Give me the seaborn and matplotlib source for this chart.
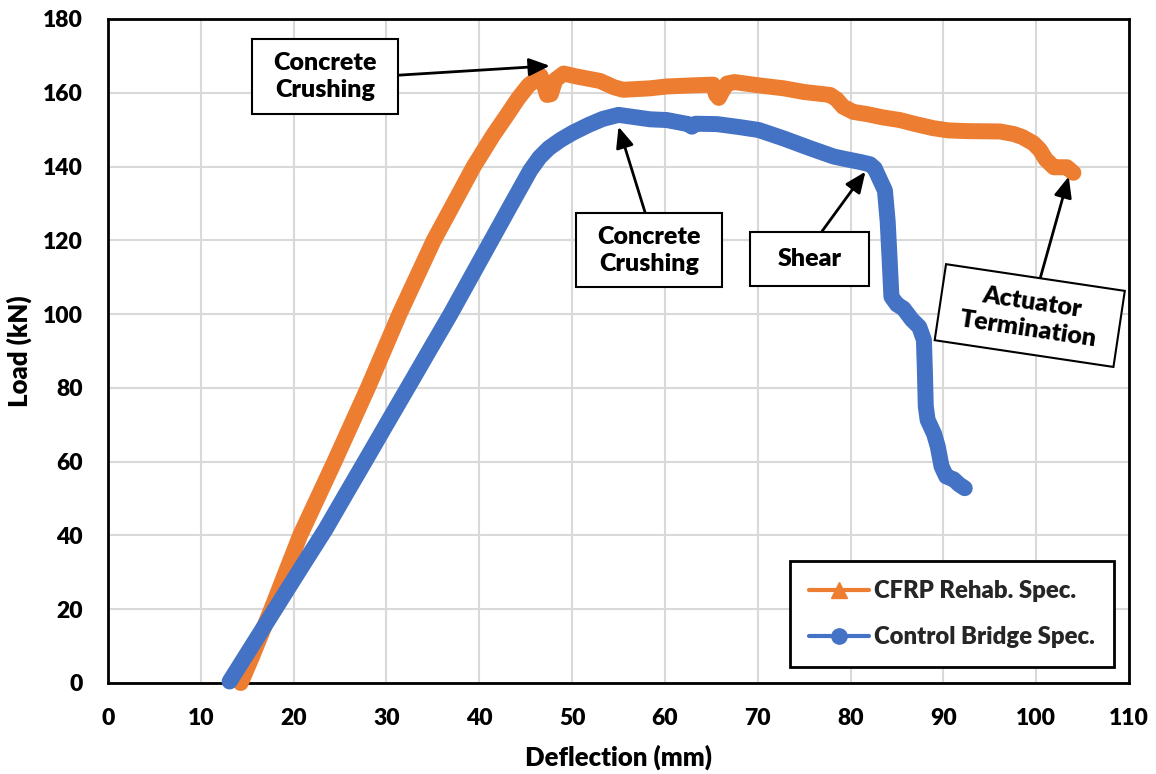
import matplotlib
matplotlib.use("Agg")
import matplotlib.pyplot as plt
from matplotlib.lines import Line2D
from matplotlib.path import Path
import pandas as pd
import seaborn as sns

# Load-deflection records of the two bridge specimens
cfrp_deflection = [14.3, 15.5, 17.6, 20.7, 24.4, 28.0, 31.4, 35.1, 39.4, 41.5,
                   43.0, 44.2, 45.3, 46.6, 47.0, 47.3, 47.7, 48.2, 49.1, 50.5,
                   53.0, 54.5, 55.5, 58.4, 60.2, 63.0, 65.2, 65.5, 65.8, 66.2,
                   66.7, 67.5, 70.1, 72.8, 75.0, 77.8, 78.5, 79.2, 80.3, 81.8,
                   83.5, 85.3, 87.0, 88.9, 90.5, 92.5, 96.1, 97.6, 98.5, 99.7,
                   100.4, 101.0, 101.9, 102.5, 103.3, 104.0]
cfrp_load = [0.0, 7.0, 20.0, 40.0, 60.0, 80.0, 100.0, 120.0, 140.0, 148.5,
             154.0, 158.5, 162.0, 164.6, 162.0, 159.4, 159.6, 163.5, 165.2, 164.4,
             163.2, 161.5, 160.8, 161.2, 161.7, 162.0, 162.2, 159.5, 158.6, 160.5,
             162.5, 162.9, 162.0, 161.2, 160.2, 159.4, 158.2, 156.2, 154.8, 154.2,
             153.3, 152.6, 151.5, 150.4, 149.8, 149.6, 149.5, 148.8, 148.0, 146.3,
             144.5, 142.0, 139.8, 139.8, 139.8, 138.3]

control_deflection = [13.1, 15.0, 17.0, 19.0, 21.0, 23.4, 25.7, 27.9, 30.2, 32.4,
                      34.7, 36.9, 39.1, 41.3, 43.5, 45.5, 46.5, 47.5, 48.8, 50.1,
                      51.8, 53.3, 55.0, 58.4, 60.2, 62.5, 62.9, 63.3, 65.6, 68.0,
                      70.1, 72.8, 75.7, 78.2, 79.5, 81.1, 82.1, 82.6, 83.0, 83.7,
                      84.0, 84.2, 84.4, 85.0, 85.7, 86.6, 87.4, 87.9, 88.0, 88.1,
                      88.3, 89.0, 89.4, 89.8, 90.3, 91.1, 91.7, 92.3]
control_load = [0.4, 8.0, 16.0, 24.0, 32.0, 41.5, 51.5, 61.0, 71.0, 80.5,
                90.5, 100.0, 110.0, 120.0, 130.0, 139.0, 142.5, 145.0, 147.3, 149.2,
                151.3, 152.9, 154.0, 152.8, 152.6, 151.5, 150.8, 151.6, 151.5, 150.7,
                149.9, 147.6, 144.9, 142.7, 142.0, 141.2, 140.6, 139.5, 137.3, 133.5,
                125.0, 115.0, 104.7, 102.6, 101.5, 98.5, 96.5, 93.0, 85.0, 75.0,
                71.3, 67.5, 64.0, 58.7, 56.0, 55.2, 53.8, 52.8]

series_names = ["CFRP Rehab. Spec.", "Control Bridge Spec."]
series_colors = ["#ED7D31", "#4472C4"]
series_markers = ["^", "o"]
x_ticks = list(range(0, 111, 10))
y_ticks = list(range(0, 181, 20))

sns.set_theme(style="whitegrid")
plt.rcParams["font.family"] = ["Lato", "DejaVu Sans"]
plt.rcParams["font.weight"] = "heavy"

df = pd.concat([
    pd.DataFrame({"Deflection": cfrp_deflection, "Load": cfrp_load,
                  "Specimen": series_names[0]}),
    pd.DataFrame({"Deflection": control_deflection, "Load": control_load,
                  "Specimen": series_names[1]}),
], ignore_index=True)

fig = plt.figure(figsize=(11.56, 7.74), dpi=100)
ax = fig.add_axes([0.0934, 0.1176, 0.8833, 0.8579])

sns.lineplot(data=df, x="Deflection", y="Load", hue="Specimen",
             hue_order=series_names, palette=series_colors,
             sort=False, estimator=None, lw=11.5, legend=False, ax=ax,
             solid_capstyle="round", solid_joinstyle="round", clip_on=False,
             zorder=3)

ax.set_xlim(0, 110)
ax.set_ylim(0, 180)
ax.set_xticks(x_ticks)
ax.set_yticks(y_ticks)
ax.tick_params(axis="both", direction="inout", length=12, width=1.6,
               color="black", labelsize=16.5, pad=12, labelcolor="black")
for lbl in ax.get_xticklabels() + ax.get_yticklabels():
    lbl.set_fontweight("heavy")
ax.grid(True, color="#d9d9d9", lw=1.5)
ax.set_axisbelow(True)
for side in ["left", "bottom", "top", "right"]:
    ax.spines[side].set_visible(True)
    ax.spines[side].set_color("black")
    ax.spines[side].set_linewidth(2)

ax.set_xlabel("Deflection (mm)", fontsize=18.5, fontweight="heavy", color="black",
              labelpad=11)
ax.set_ylabel("Load (kN)", fontsize=18.5, fontweight="heavy", color="black",
              labelpad=8)


class PadBox:
    """Rectangular text box with separate horizontal and vertical padding."""

    def __init__(self, padx, pady):
        self.padx = padx
        self.pady = pady

    def __call__(self, x0, y0, width, height, mutation_size):
        px = self.padx * mutation_size
        py = self.pady * mutation_size
        x0, y0 = x0 - px, y0 - py
        x1, y1 = x0 + width + 2 * px, y0 + height + 2 * py
        return Path([(x0, y0), (x1, y0), (x1, y1), (x0, y1), (x0, y0)],
                    closed=True)


def callout(text, tip, center, relpos=(0.5, 0.5), rotation=0, padx=0.85, pady=0.5):
    ax.annotate(text, xy=tip, xytext=center, textcoords="data",
                ha="center", va="center", fontsize=18, fontweight="heavy",
                rotation=rotation, rotation_mode="anchor", linespacing=1.3,
                color="black", zorder=6,
                bbox=dict(boxstyle=PadBox(padx, pady), fc="white", ec="black", lw=1.5),
                arrowprops=dict(arrowstyle="-|>,head_length=0.7,head_width=0.3",
                                color="black", lw=2, shrinkA=0, shrinkB=0,
                                mutation_scale=18, relpos=relpos))


callout("Concrete\nCrushing", tip=(47.6, 167.3), center=(23.4, 164.4),
        relpos=(1.0, 0.5))
callout("Concrete\nCrushing", tip=(55.0, 150.8), center=(58.3, 117.3),
        relpos=(0.5, 1.0))
callout("Shear", tip=(81.6, 138.6), center=(75.6, 114.9), relpos=(0.5, 1.0),
        padx=1.1, pady=0.65)
callout("Actuator\nTermination", tip=(103.5, 137.3), center=(99.3, 99.6),
        rotation=-8.5, padx=0.85, pady=0.55)

handles = [Line2D([0], [0], color=c, lw=3, marker=m, markersize=11)
           for c, m in zip(series_colors, series_markers)]
leg = ax.legend(handles, series_names, loc="lower right",
                bbox_to_anchor=(0.985, 0.024), borderaxespad=0,
                fontsize=17.2, frameon=True, fancybox=False, edgecolor="black",
                framealpha=1, handlelength=2.5, handletextpad=0.2,
                labelspacing=1.0, borderpad=0.8)
leg.get_frame().set_linewidth(2)
for t in leg.get_texts():
    t.set_fontweight("heavy")
leg.set_zorder(7)

fig.savefig("out.png", dpi=100)
